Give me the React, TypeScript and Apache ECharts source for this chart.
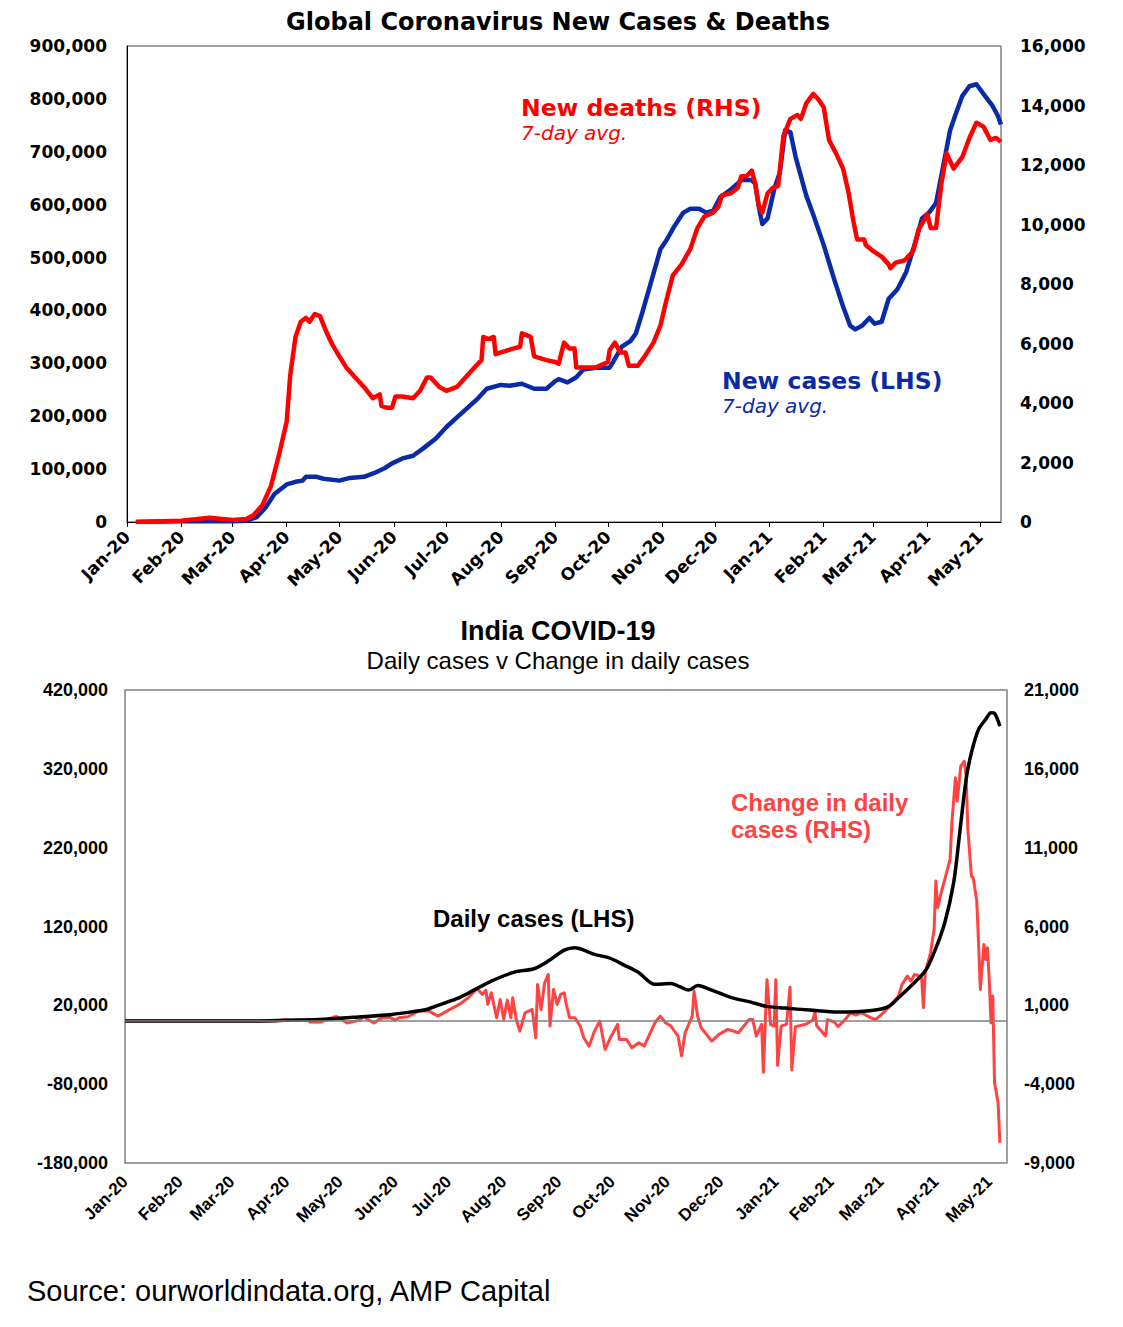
import React, { useEffect, useRef } from "react";
import * as echarts from "echarts";

const MONTHS = ["Jan", "Feb", "Mar", "Apr", "May", "Jun", "Jul", "Aug", "Sep", "Oct", "Nov", "Dec"];

// Day counts (days since 1 Jan 2020) spanned by each chart's x axis
const TOP_DAY_COUNT = 499;
const BOTTOM_DAY_COUNT = 497;

// ---------- Global chart (7-day averages) ----------
// days since 1 Jan 2020
const deathDay = [5, 31, 47, 60, 68, 72, 77, 82, 87, 91, 93, 96, 99, 102, 104, 107, 110, 113, 117, 121, 125, 130, 135, 140, 144, 145, 148, 151, 153, 157, 163, 167, 171, 173, 178, 182, 188, 194, 198, 202, 203, 206, 209, 210, 213, 220, 224, 225, 230, 232, 239, 244, 246, 249, 252, 255, 256, 267, 274, 275, 278, 281, 284, 286, 291, 295, 300, 304, 307, 311, 316, 321, 325, 329, 334, 337, 339, 344, 348, 350, 353, 356, 358, 360, 362, 365, 368, 371, 374, 378, 382, 384, 387, 391, 394, 397, 400, 404, 408, 411, 414, 416, 420, 421, 425, 430, 434, 435, 438, 443, 448, 451, 456, 458, 461, 464, 467, 471, 476, 480, 484, 488, 492, 495, 498];
const deathValue = [0, 40, 140, 64, 100, 230, 550, 1200, 2350, 3380, 4930, 6220, 6730, 6860, 6730, 6990, 6920, 6470, 5960, 5570, 5190, 4860, 4540, 4160, 4290, 3900, 3840, 3840, 4220, 4220, 4160, 4410, 4860, 4860, 4540, 4410, 4540, 4930, 5190, 5440, 6220, 6150, 6220, 5640, 5700, 5830, 5890, 6340, 6220, 5570, 5440, 5380, 5320, 6030, 5830, 5830, 5190, 5190, 5380, 5770, 6030, 5700, 5700, 5250, 5250, 5570, 6030, 6610, 7370, 8290, 8660, 9180, 9880, 10270, 10400, 10600, 10980, 11050, 11230, 11620, 11620, 11810, 11360, 10630, 10400, 11050, 11230, 11300, 12970, 13550, 13680, 13550, 14070, 14390, 14200, 13940, 12840, 12390, 11880, 11110, 10080, 9500, 9500, 9310, 9110, 8920, 8660, 8530, 8720, 8790, 9110, 9820, 10340, 9880, 9880, 11360, 12390, 11880, 12270, 12910, 13420, 13290, 12840, 12910, 12780];

const caseDay = [5, 30, 60, 68, 74, 79, 84, 91, 96, 100, 102, 108, 112, 121, 127, 135, 141, 147, 151, 157, 163, 169, 176, 182, 188, 194, 200, 205, 213, 218, 225, 232, 239, 244, 246, 251, 256, 260, 267, 275, 277, 282, 287, 290, 294, 299, 304, 307, 312, 317, 321, 326, 330, 334, 338, 344, 350, 356, 358, 360, 362, 365, 369, 372, 375, 378, 381, 387, 391, 397, 403, 408, 412, 415, 419, 423, 426, 430, 434, 439, 444, 450, 453, 457, 461, 465, 469, 472, 476, 480, 484, 488, 493, 496, 498];
const caseValue = [0, 1500, 1500, 2500, 9400, 27500, 52900, 71000, 76000, 78200, 85400, 85400, 81800, 78200, 83300, 85400, 92700, 102100, 110800, 120200, 125300, 139700, 157800, 179600, 197700, 215800, 233900, 252000, 259200, 257800, 261400, 252000, 252000, 266400, 270000, 264000, 273700, 288200, 291800, 291800, 302600, 331600, 342500, 356900, 400400, 458300, 516200, 530700, 559700, 585000, 592300, 592300, 585000, 588600, 613900, 628400, 646500, 646500, 639300, 595900, 563300, 574100, 632000, 661000, 740700, 737000, 690000, 617600, 581400, 523500, 458300, 407600, 371400, 364200, 371400, 385900, 375000, 378600, 422100, 440200, 472800, 537900, 574100, 585000, 603100, 671900, 740700, 769600, 805800, 823900, 827600, 809500, 787700, 769600, 751500];

const topLeftTicks = { min: 0, max: 900000, interval: 100000 };
const topRightTicks = { min: 0, max: 16000, interval: 2000 };

// ---------- India chart ----------
const indiaCaseDay = [0, 74, 91, 109, 130, 150, 162, 170, 176, 188, 197, 206, 219, 230, 238, 247, 253, 258, 264, 272, 281, 289, 298, 307, 312, 317, 322, 330, 341, 352, 360, 371, 385, 401, 420, 429, 435, 442, 450, 455, 461, 466, 469, 473, 476, 480, 484, 487, 489, 492];
const indiaCaseValue = [0, 100, 1000, 2000, 5000, 8500, 12000, 15000, 20000, 29700, 40200, 50700, 62200, 66400, 76100, 90100, 93100, 90100, 84600, 80400, 70700, 61400, 46600, 47800, 43600, 39300, 45300, 39300, 29700, 24100, 19000, 16500, 14000, 11500, 13500, 18000, 29700, 44400, 63400, 86800, 124800, 175600, 230500, 306600, 340500, 370000, 382700, 391200, 390300, 374200];

const indiaChangeDay = [0, 85, 90, 96, 103, 104, 110, 117, 119, 125, 132, 134, 140, 144, 149, 152, 154, 159, 165, 171, 176, 182, 188, 193, 198, 201, 203, 204, 206, 209, 211, 213, 215, 217, 218, 220, 222, 225, 229, 231, 232, 234, 236, 238, 239, 241, 243, 245, 247, 248, 250, 253, 256, 258, 261, 264, 267, 270, 273, 277, 278, 282, 285, 289, 292, 295, 298, 301, 304, 307, 311, 313, 315, 319, 320, 322, 324, 330, 334, 339, 345, 351, 353, 355, 358, 359, 361, 363, 365, 366, 367, 369, 372, 374, 375, 377, 383, 387, 388, 389, 394, 395, 399, 401, 405, 408, 411, 414, 419, 422, 425, 428, 431, 435, 437, 440, 442, 444, 447, 448, 449, 450, 453, 455, 456, 457, 459, 462, 464, 465, 467, 468, 470, 472, 473, 474, 476, 477, 479, 480, 481, 483, 484, 485, 486, 487, 488, 489, 491, 492];
const indiaChangeValue = [0, 0, 90, 30, 90, -60, -60, 240, 290, -120, 60, 290, -120, 180, 240, 60, 211, 275, 634, 634, 317, 697, 1057, 1479, 2050, 1690, 1965, 1057, 1796, 211, 1373, 106, 1331, 211, 1479, 106, -634, 528, 740, -1057, 2324, 740, 2430, 2958, -317, 2007, 1057, 1690, 1796, 1162, 211, 211, -317, -1057, -1585, -634, 0, -1796, -1057, -211, -1162, -1162, -1690, -1373, -1585, -845, -106, 317, -106, -317, -951, -2219, -740, 317, 1902, 317, -423, -1268, -845, -528, -740, 106, 106, -951, -211, -3250, 2630, -211, -317, 2630, -2810, -317, -211, 2150, -3100, -350, -200, 90, 590, -290, -940, 90, -60, -350, 90, 530, 380, 530, 240, 90, 380, 700, 1060, 1590, 2330, 2850, 2540, 2960, 2850, 2700, 850, 3060, 4330, 5810, 8880, 7190, 8140, 9400, 10250, 12570, 15430, 13950, 16170, 16490, 15540, 12150, 9190, 9090, 7610, 4970, 2010, 4860, 3910, 4650, 2640, -110, 1590, -3910, -5180, -7720];

const bottomLeftTicks = { min: -180000, max: 420000, interval: 100000 };
const bottomRightTicks = { min: -9000, max: 21000, interval: 5000 };

// ---------- helpers ----------
function dayCategories(n: number): string[] {
  const t0 = Date.UTC(2020, 0, 1);
  const out: string[] = [];
  for (let i = 0; i < n; i++) out.push(new Date(t0 + i * 86400000).toISOString().slice(0, 10));
  return out;
}

function toDaily(days: number[], vals: number[], n: number): (number | null)[] {
  const arr: (number | null)[] = new Array(n).fill(null);
  days.forEach((d, i) => {
    if (d < n) arr[d] = vals[i];
  });
  return arr;
}

const isMonthStart = (_i: number, v: string) => v.endsWith("-01");
const monthLabel = (v: string) => MONTHS[Number(v.slice(5, 7)) - 1] + "-" + v.slice(2, 4);
const thousands = (v: number) => v.toLocaleString("en-US");

const VERDANA = "'DejaVu Sans', Verdana, sans-serif";
const ARIAL = "'Liberation Sans', Arial, sans-serif";
const BLUE = "#0a2aa8";
const RED = "#ff0000";
const IND_RED = "#ff4343";

export default function App() {
  const ref = useRef<HTMLDivElement>(null);

  useEffect(() => {
    document.body.style.margin = "0";
    if (!ref.current) return;
    const chart = echarts.init(ref.current, null, { renderer: "svg" });

    const topCats = dayCategories(TOP_DAY_COUNT);
    const botCats = dayCategories(BOTTOM_DAY_COUNT);

    const topYLabel = { fontFamily: VERDANA, fontWeight: "bold", fontSize: 17, color: "#000", formatter: thousands };
    const botYLabel = { fontFamily: ARIAL, fontWeight: "bold", fontSize: 18, color: "#000", formatter: thousands };

    const option: any = {
      animation: false,
      backgroundColor: "#fff",
      grid: [
        { left: 127, top: 46, width: 874, height: 476, show: true, borderColor: "#444", borderWidth: 1, backgroundColor: "transparent" },
        { left: 125, top: 690, width: 882, height: 473, show: true, borderColor: "#808080", borderWidth: 1.5, backgroundColor: "transparent" },
      ],
      xAxis: [
        {
          type: "category",
          gridIndex: 0,
          data: topCats,
          boundaryGap: false,
          axisLine: { show: true, onZero: false, lineStyle: { color: "#000", width: 1 } },
          axisTick: { show: true, interval: isMonthStart, length: 5, lineStyle: { color: "#000" } },
          axisLabel: {
            interval: isMonthStart,
            formatter: monthLabel,
            rotate: 45,
            margin: 12,
            fontFamily: VERDANA,
            fontWeight: "bold",
            fontSize: 17,
            color: "#000",
          },
          splitLine: { show: false },
        },
        {
          type: "category",
          gridIndex: 1,
          data: botCats,
          boundaryGap: false,
          axisLine: { show: false, onZero: false },
          axisTick: { show: false },
          axisLabel: {
            interval: isMonthStart,
            formatter: monthLabel,
            rotate: 45,
            margin: 16,
            fontFamily: ARIAL,
            fontWeight: "bold",
            fontSize: 17,
            color: "#000",
          },
          splitLine: { show: false },
        },
      ],
      yAxis: [
        {
          type: "value",
          gridIndex: 0,
          position: "left",
          ...topLeftTicks,
          axisLine: { show: true, lineStyle: { color: "#000" } },
          axisTick: { show: false },
          splitLine: { show: false },
          axisLabel: { ...topYLabel, margin: 20 },
        },
        {
          type: "value",
          gridIndex: 0,
          position: "right",
          ...topRightTicks,
          axisLine: { show: false },
          axisTick: { show: false },
          splitLine: { show: false },
          axisLabel: { ...topYLabel, margin: 19 },
        },
        {
          type: "value",
          gridIndex: 1,
          position: "left",
          ...bottomLeftTicks,
          axisLine: { show: false },
          axisTick: { show: false },
          splitLine: { show: false },
          axisLabel: { ...botYLabel, margin: 17 },
        },
        {
          type: "value",
          gridIndex: 1,
          position: "right",
          ...bottomRightTicks,
          axisLine: { show: false },
          axisTick: { show: false },
          splitLine: { show: false },
          axisLabel: { ...botYLabel, margin: 17 },
        },
      ],
      series: [
        {
          name: "New cases (LHS)",
          type: "line",
          xAxisIndex: 0,
          yAxisIndex: 0,
          data: toDaily(caseDay, caseValue, TOP_DAY_COUNT),
          connectNulls: true,
          showSymbol: false,
          symbol: "none",
          lineStyle: { color: BLUE, width: 4.5, join: "round" },
          z: 3,
        },
        {
          name: "New deaths (RHS)",
          type: "line",
          xAxisIndex: 0,
          yAxisIndex: 1,
          data: toDaily(deathDay, deathValue, TOP_DAY_COUNT),
          connectNulls: true,
          showSymbol: false,
          symbol: "none",
          lineStyle: { color: RED, width: 4.5, join: "round" },
          z: 4,
        },
        {
          name: "zero",
          type: "line",
          xAxisIndex: 1,
          yAxisIndex: 3,
          data: [],
          z: 1,
          markLine: {
            silent: true,
            symbol: ["none", "none"],
            label: { show: false },
            lineStyle: { color: "#808080", width: 1.5, type: "solid" },
            data: [{ yAxis: 0 }],
          },
        },
        {
          name: "Change in daily cases (RHS)",
          type: "line",
          xAxisIndex: 1,
          yAxisIndex: 3,
          data: toDaily(indiaChangeDay, indiaChangeValue, BOTTOM_DAY_COUNT),
          connectNulls: true,
          showSymbol: false,
          symbol: "none",
          lineStyle: { color: IND_RED, width: 3, join: "round" },
          z: 3,
        },
        {
          name: "Daily cases (LHS)",
          type: "line",
          xAxisIndex: 1,
          yAxisIndex: 2,
          data: toDaily(indiaCaseDay, indiaCaseValue, BOTTOM_DAY_COUNT),
          connectNulls: true,
          showSymbol: false,
          symbol: "none",
          smooth: 0.3,
          lineStyle: { color: "#000", width: 3.5, join: "round" },
          z: 4,
        },
      ],
      graphic: [
        { type: "text", x: 558, y: 22, style: { text: "Global Coronavirus New Cases & Deaths", font: `bold 24px ${VERDANA}`, fill: "#000", align: "center", verticalAlign: "middle" } },
        { type: "text", x: 521, y: 108, style: { text: "New deaths (RHS)", font: `bold 23.5px ${VERDANA}`, fill: RED, verticalAlign: "middle" } },
        { type: "text", x: 521, y: 133, style: { text: "7-day avg.", font: `italic 20px ${VERDANA}`, fill: RED, verticalAlign: "middle" } },
        { type: "text", x: 722, y: 381, style: { text: "New cases (LHS)", font: `bold 23.5px ${VERDANA}`, fill: BLUE, verticalAlign: "middle" } },
        { type: "text", x: 722, y: 406, style: { text: "7-day avg.", font: `italic 20px ${VERDANA}`, fill: BLUE, verticalAlign: "middle" } },
        { type: "text", x: 558, y: 631, style: { text: "India COVID-19", font: `bold 27px ${ARIAL}`, fill: "#000", align: "center", verticalAlign: "middle" } },
        { type: "text", x: 558, y: 660, style: { text: "Daily cases v Change in daily cases", font: `24px ${ARIAL}`, fill: "#000", align: "center", verticalAlign: "middle" } },
        { type: "text", x: 433, y: 918, style: { text: "Daily cases (LHS)", font: `bold 24px ${ARIAL}`, fill: "#000", verticalAlign: "middle" } },
        { type: "text", x: 731, y: 802, style: { text: "Change in daily", font: `bold 24px ${ARIAL}`, fill: IND_RED, verticalAlign: "middle" } },
        { type: "text", x: 731, y: 829, style: { text: "cases (RHS)", font: `bold 24px ${ARIAL}`, fill: IND_RED, verticalAlign: "middle" } },
        { type: "text", x: 27, y: 1291, style: { text: "Source: ourworldindata.org, AMP Capital", font: `29px ${ARIAL}`, fill: "#000", verticalAlign: "middle" } },
      ],
    };

    chart.setOption(option);
    return () => chart.dispose();
  }, []);

  return <div ref={ref} style={{ width: 1123, height: 1327 }} />;
}
